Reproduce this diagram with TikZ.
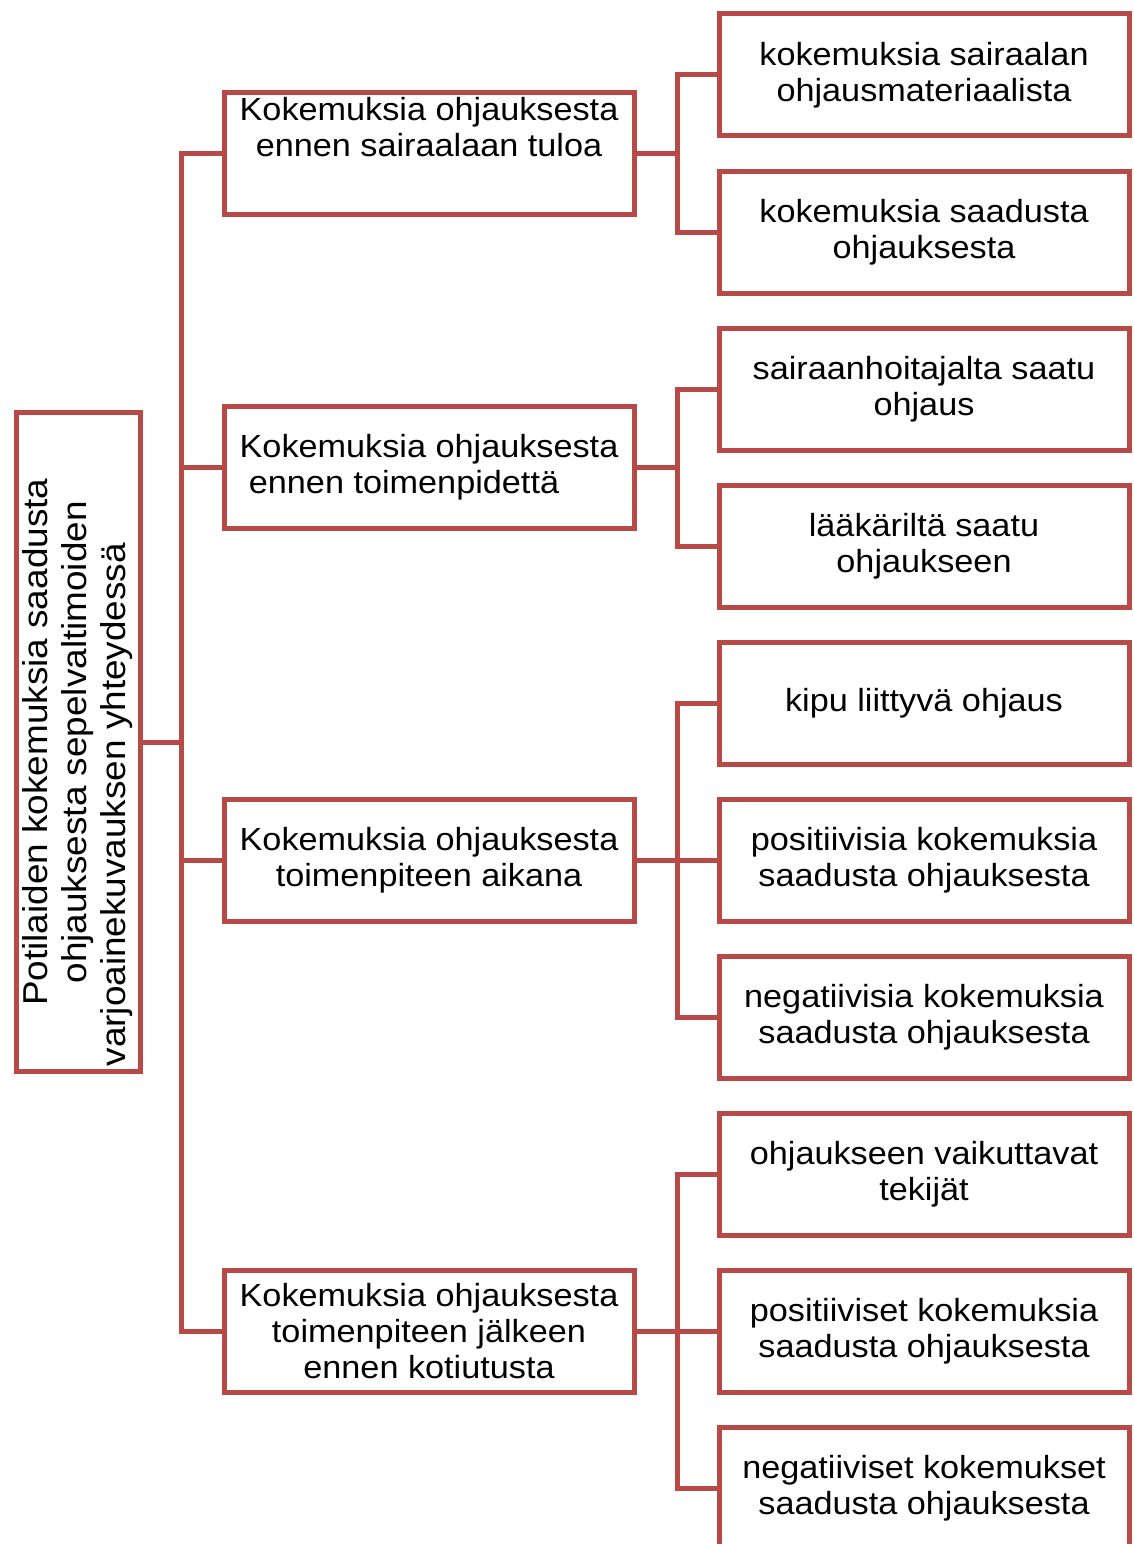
\documentclass[tikz,border=0pt]{standalone}
\usepackage{fontspec}
\setmainfont{Liberation Sans}[FakeStretch=1.07]
\usepackage{tikz}
\usetikzlibrary{positioning, calc}
\definecolor{frameRed}{RGB}{183,74,71}

\begin{document}
\begin{tikzpicture}[x=1pt, y=-1pt, line width=5pt,
	box/.style={draw=frameRed, rectangle, minimum width=410pt, minimum height=122pt, inner sep=0pt, align=center, font=\fontsize{32}{36}\selectfont},
	rootbox/.style={box, minimum width=659pt, minimum height=124pt, rotate=90, font=\fontsize{34.5}{39}\selectfont},
	link/.style={draw=frameRed, line width=5pt}]
	\useasboundingbox (0,0) rectangle (1133,1544);
	\node[box] (l1) at (924,75) {kokemuksia sairaalan\\ohjausmateriaalista};
	\node[box, below=30pt of l1] (l2) {kokemuksia saadusta\\ohjauksesta};
	\node[box, below=30pt of l2] (l3) {sairaanhoitajalta saatu\\ohjaus};
	\node[box, below=30pt of l3] (l4) {lääkäriltä saatu\\ohjaukseen};
	\node[box, below=30pt of l4] (l5) {kipu liittyvä ohjaus};
	\node[box, below=30pt of l5] (l6) {positiivisia kokemuksia\\saadusta ohjauksesta};
	\node[box, below=30pt of l6] (l7) {negatiivisia kokemuksia\\saadusta ohjauksesta};
	\node[box, below=30pt of l7] (l8) {ohjaukseen vaikuttavat\\tekijät};
	\node[box, below=30pt of l8] (l9) {positiiviset kokemuksia\\saadusta ohjauksesta};
	\node[box, below=30pt of l9] (l10) {negatiiviset kokemukset\\saadusta ohjauksesta};
	\coordinate (m12) at ($(l1.west)!0.5!(l2.west)$);
	\coordinate (m34) at ($(l3.west)!0.5!(l4.west)$);
	\node[box, left=80pt of m12] (g1) {Kokemuksia ohjauksesta\\ennen sairaalaan tuloa\\[18pt]\mbox{}};
	\node[box, left=80pt of m34] (g2) {Kokemuksia ohjauksesta\\ennen toimenpidettä\hspace*{50pt}};
	\node[box, left=80pt of l6] (g3) {Kokemuksia ohjauksesta\\toimenpiteen aikana};
	\node[box, left=80pt of l9] (g4) {Kokemuksia ohjauksesta\\toimenpiteen jälkeen\\ennen kotiutusta};
	\node[rootbox, anchor=south] (root) at ($(g1.west)!0.5!(g4.west)+(-79,0)$) {Potilaiden kokemuksia saadusta\\ohjauksesta sepelvaltimoiden\\varjoainekuvauksen yhteydessä\hspace*{125pt}};
	% trunk
	\coordinate (t) at ($(root.south)+(38.5,0)$);
	\draw[link] (g1.west) -| (t) |- (g4.west);
	\draw[link] (root.south) -- (t);
	\draw[link] (g2.west) -- (g2.west -| t);
	\draw[link] (g3.west) -- (g3.west -| t);
	% branches
	\coordinate (s1) at ($(g1.east)+(41,0)$);
	\coordinate (s2) at ($(g2.east)+(41,0)$);
	\coordinate (s3) at ($(g3.east)+(41,0)$);
	\coordinate (s4) at ($(g4.east)+(41,0)$);
	\draw[link] (l1.west) -| (s1) |- (l2.west);
	\draw[link] (l3.west) -| (s2) |- (l4.west);
	\draw[link] (l5.west) -| (s3) |- (l7.west);
	\draw[link] (l8.west) -| (s4) |- (l10.west);
	\draw[link] (g1.east) -- (s1);
	\draw[link] (g2.east) -- (s2);
	\draw[link] (g3.east) -- (l6.west);
	\draw[link] (g4.east) -- (l9.west);
\end{tikzpicture}
\end{document}
